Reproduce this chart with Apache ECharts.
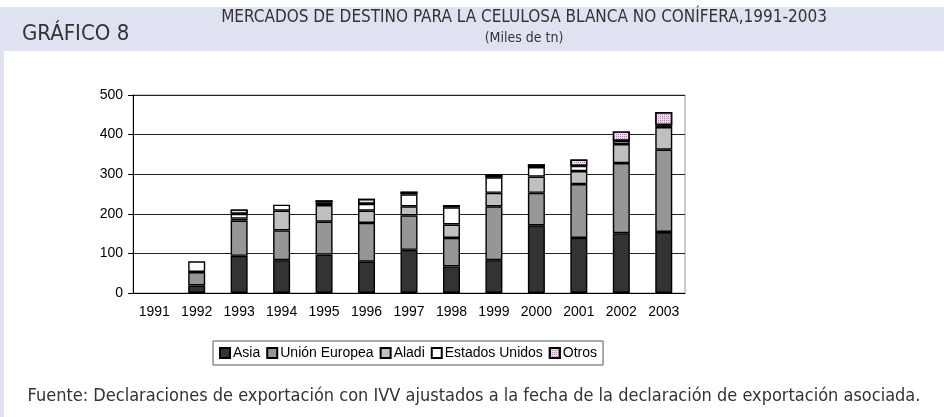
<!DOCTYPE html>
<html>
<head>
<meta charset="utf-8">
<script src="https://cdn.jsdelivr.net/npm/echarts@6/dist/echarts.min.js"></script>
<style>
  html, body { margin: 0; padding: 0; background: #fff; }
  #chart { width: 944px; height: 417px; }
</style>
</head>
<body>
<div id="chart"></div>
<script>
// Mercados de destino celulosa blanca no conífera (miles de tn)
const years = ['1991', '1992', '1993', '1994', '1995', '1996', '1997', '1998', '1999', '2000', '2001', '2002', '2003'];
const asia = [null, 19, 94, 83, 97, 79, 109, 67, 83, 171, 139, 151, 154];
const unionEuropea = [null, 34, 89, 75, 83, 98, 87, 72, 136, 82, 136, 177, 208];
const aladi = [null, null, 5, 50, 42, 31, 23, 34, 34, 41, 33, 48, 57];
const estadosUnidos = [null, 27, 12, 15, 7, 17, 30, 43, 39, 24, 13, 8, 5];
const otros = [null, null, 11, null, 5, 13, 7, 6, 7, 7, 16, 24, 33];
const yTicks = [0, 100, 200, 300, 400, 500];

const CHART_FONT = 'Liberation Sans, Arial, sans-serif';
const NARROW_FONT = '"Liberation Sans Narrow", "DejaVu Sans Condensed", sans-serif';
const band = '#dfe3f1';

const chart = echarts.init(document.getElementById('chart'), null, { renderer: 'canvas' });

function barSeries(name, data, color, extra) {
  return Object.assign({
    name,
    type: 'bar',
    stack: 'total',
    barWidth: 17,
    data,
    itemStyle: { color, borderColor: '#000', borderWidth: 1.4 },
  }, extra || {});
}

chart.setOption({
  animation: false,
  textStyle: { fontFamily: CHART_FONT },
  graphic: [
    { type: 'rect', shape: { x: 0, y: 7, width: 944, height: 44 }, style: { fill: band }, silent: true },
    { type: 'rect', shape: { x: 0, y: 51, width: 4, height: 366 }, style: { fill: band }, silent: true },
    {
      type: 'text', left: 22, top: 23,
      style: { text: 'GRÁFICO 8', font: '22px ' + NARROW_FONT, fill: '#333' },
    },
    {
      type: 'text', x: 524, y: 9,
      style: { text: 'MERCADOS DE DESTINO PARA LA CELULOSA BLANCA NO CONÍFERA,1991-2003', font: '17px ' + NARROW_FONT, fill: '#333', align: 'center' },
    },
    {
      type: 'text', x: 524, y: 31,
      style: { text: '(Miles de tn)', font: '14px ' + NARROW_FONT, fill: '#333', align: 'center' },
    },
    {
      type: 'text', x: 474, y: 387,
      style: { text: 'Fuente: Declaraciones de exportación con IVV ajustados a la fecha de la declaración de exportación asociada.', font: '18px ' + NARROW_FONT, fill: '#333', align: 'center' },
    },
  ],
  grid: {
    left: 133, right: 259, top: 95, bottom: 124,
    show: true, borderColor: '#999', borderWidth: 1, backgroundColor: 'transparent',
  },
  legend: {
    top: 341,
    left: 213,
    icon: 'rect',
    itemWidth: 10,
    itemHeight: 10,
    itemGap: 6,
    padding: [5, 6, 5, 6],
    borderColor: '#555',
    borderWidth: 1,
    textStyle: { fontSize: 14, color: '#000', fontFamily: CHART_FONT, padding: [0, 0, 0, -2] },
    data: ['Asia', 'Unión Europea', 'Aladi', 'Estados Unidos', 'Otros'],
  },
  xAxis: {
    type: 'category',
    data: years,
    axisLine: { lineStyle: { color: '#000', width: 1 } },
    axisTick: { length: 5, lineStyle: { color: '#000' } },
    axisLabel: { fontSize: 14, color: '#000', margin: 12, fontFamily: CHART_FONT },
  },
  yAxis: {
    type: 'value',
    min: yTicks[0],
    max: yTicks[yTicks.length - 1],
    interval: 100,
    axisLine: { show: true, lineStyle: { color: '#000', width: 1 } },
    axisTick: { show: true, length: 5, lineStyle: { color: '#000' } },
    axisLabel: { fontSize: 14, color: '#000', margin: 10, fontFamily: CHART_FONT },
    splitLine: { lineStyle: { color: '#222', width: 1 } },
  },
  series: [
    barSeries('Asia', asia, '#333333'),
    barSeries('Unión Europea', unionEuropea, '#969696'),
    barSeries('Aladi', aladi, '#c0c0c0'),
    barSeries('Estados Unidos', estadosUnidos, '#ffffff'),
    barSeries('Otros', otros, '#f2dcf2', {
      itemStyle: {
        color: '#f2dcf2', borderColor: '#000', borderWidth: 1.4,
        decal: { symbol: 'rect', symbolSize: 1, color: '#b27ab2', dashArrayX: [1, 1], dashArrayY: [1, 1], rotation: 0 },
      },
    }),
  ],
});
</script>
</body>
</html>
